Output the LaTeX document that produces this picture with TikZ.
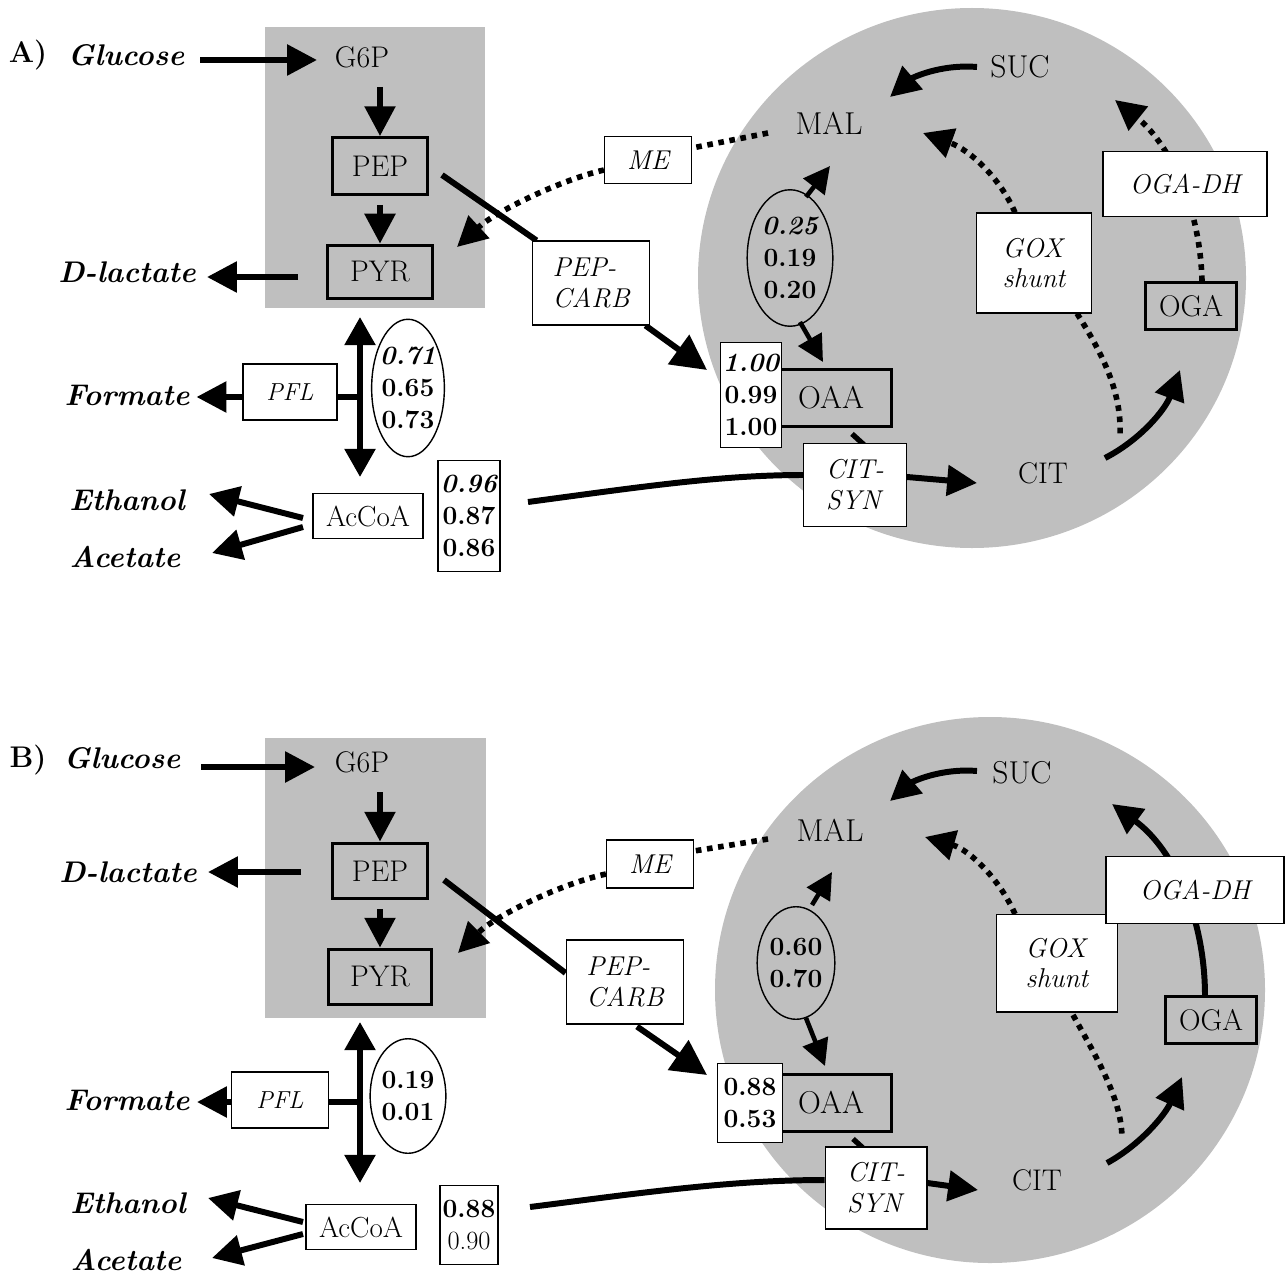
\documentclass[tikz,border=0pt]{standalone}
\usetikzlibrary{arrows.meta,shapes.geometric,calc}
\pgfdeclarelayer{back}\pgfdeclarelayer{mid}
\pgfsetlayers{back,mid,main}
\definecolor{bgg}{gray}{0.75}
\tikzset{
 wh/.style 2 args={minimum width=#1*0.5669pt,minimum height=#2*0.5669pt},
 met/.style={inner sep=1pt,font=\fontsize{17}{20}\selectfont},
 bigmet/.style={inner sep=1pt,font=\fontsize{18}{20}\selectfont},
 mbox/.style={draw,line width=1.7pt,inner sep=0pt,font=\fontsize{17}{20}\selectfont},
 cbox/.style={draw,fill=white,line width=1pt,inner sep=0pt,font=\fontsize{16.5}{18}\selectfont},
 prod/.style={inner sep=1pt,font=\fontsize{17}{20}\selectfont\bfseries\itshape},
 lab/.style={inner sep=1pt,font=\fontsize{17}{20}\selectfont\bfseries},
 enz/.style={draw,fill=white,line width=0.8pt,inner sep=0pt,align=left,font=\fontsize{15.5}{17.5}\selectfont\itshape},
 vbox/.style={draw,fill=white,line width=0.8pt,inner sep=0pt,align=center,font=\fontsize{15}{18}\selectfont\bfseries},
 vell/.style={draw,ellipse,line width=0.8pt,inner sep=-3pt,align=center,font=\fontsize{15}{18}\selectfont\bfseries},
 arr/.style={line width=3.4pt,-{Triangle[length=17pt,width=17pt]}},
 bigarr/.style={line width=3.4pt,-{Triangle[length=20pt,width=20pt]}},
 darr/.style={line width=3.4pt,{Triangle[length=16pt,width=17pt]}-{Triangle[length=16pt,width=17pt]}},
 sarr/.style={line width=2.6pt,-{Triangle[length=15pt,width=15pt]}},
 dots/.style={line width=3.2pt,dash pattern=on 3.2pt off 3.2pt},
 darrow/.style={dots,-{Triangle[length=17pt,width=17pt]}},
 bar/.style={line width=3.4pt},
}
\begin{document}
\begin{tikzpicture}[x=0.02cm,y=-0.02cm]
\useasboundingbox (0,0) rectangle (1288,1274);
\begin{pgfonlayer}{back}
\fill[bgg] (972,278) ellipse [x radius=274, y radius=270];
\fill[bgg] (265,27) rectangle (485,308);
\fill[bgg] (990,990) ellipse [x radius=275, y radius=273];
\fill[bgg] (265,738) rectangle (486,1018);
\end{pgfonlayer}

% ---------------- Panel A ----------------
\node[lab] (labA) at (28,55) {A)};
\node[prod] (glcA) at (126,55) {Glucose};
\node[met] (g6pA) at (362,57) {G6P};
\node[mbox,wh={95}{57}] (pepA) at (380,166) {PEP};
\node[mbox,wh={105}{54}] (pyrA) at (380,272) {PYR};
\node[prod] (dlacA) at (127,272) {D-lactate};
\node[vell,wh={73}{138}] (e1A) at (408,388) {{\itshape 0.71}\\0.65\\0.73};
\node[enz,wh={94}{56},align=center,font=\fontsize{14}{17}\selectfont\itshape] (pflA) at (290,392) {PFL};
\node[prod] (formA) at (127,395) {Formate};
\node[prod] (ethA) at (127,500) {Ethanol};
\node[prod] (acetA) at (125,557) {Acetate};
\node[cbox,wh={110}{45}] (acoaA) at (368,516) {AcCoA};
\node[vbox,wh={62}{112}] (v1A) at (469,516) {{\itshape 0.96}\\0.87\\0.86};
\node[enz,wh={87}{47},align=center] (meA) at (648,160) {ME};
\node[bigmet] (malA) at (829,123) {MAL};
\node[enz,wh={118}{84}] (pcA) at (591,283) {PEP-\\CARB};
\node[mbox,wh={122}{57},font=\fontsize{18}{20}\selectfont] (oaaA) at (831,398) {OAA};
\node[vbox,wh={61}{105}] (v2A) at (751,395) {{\itshape 1.00}\\0.99\\1.00};
\node[vell,wh={86}{137}] (e2A) at (790,258) {{\itshape 0.25}\\0.19\\0.20};
\node[bigmet] (sucA) at (1020,67) {SUC};
\node[enz,wh={116}{100}] (goxA) at (1034,263) {GOX\\shunt};
\node[enz,wh={165}{65},align=center] (ogadhA) at (1185,184) {OGA-DH};
\node[mbox,wh={92}{47}] (ogaA) at (1191,306) {OGA};
\node[met] (citA) at (1043,473) {CIT};
\node[enz,wh={103}{83}] (csA) at (855,485) {CIT-\\SYN};

\begin{pgfonlayer}{mid}
\draw[arr] ($(g6pA)+(-162,3)$) -- ($(g6pA)+(-45,3)$);
\draw[arr] ($(g6pA)+(18,30)$) -- (pepA.north);
\draw[arr] ($(pepA.south)+(0,9)$) -- (pyrA.north);
\draw[arr] ($(pyrA)+(-82,5)$) -- ($(dlacA)+(80,5)$);
\draw[darr] ($(pyrA)+(-20,45)$) -- ($(acoaA)+(-8,-39)$);
\draw[bar] ($(pflA.east)+(0,5)$) -- ++(23,0);
\draw[arr] ($(pflA.west)+(0,5)$) -- ++(-46,0);
\draw[arr] ($(acoaA)+(-65,2)$) -- ($(ethA)+(82,-6)$);
\draw[arr] ($(acoaA)+(-65,11)$) -- ($(acetA)+(87,-4)$);
\draw[dots] ($(malA)+(-61,10)$) -- ($(meA.east)+(0,-12)$);
\draw[darrow] ($(meA.west)+(0,10)$) .. controls ($(meA)+(-88,20)$) and ($(meA)+(-153,52)$) .. ($(pyrA)+(77,-25)$);
\draw[bar] ($(pepA)+(62,9)$) -- ($(pcA.north west)+(5,0)$);
\draw[bigarr] ($(pcA.south east)+(-5,0)$) -- ($(v2A)+(-44,-25)$);
\draw[sarr] ($(e2A)+(16,-61)$) -- ($(e2A)+(40,-92)$);
\draw[sarr] ($(e2A)+(10,64)$) -- ($(e2A)+(33,104)$);
\draw[arr] ($(sucA)+(-43,0)$) .. controls ($(sucA)+(-80,-3)$) and ($(sucA)+(-108,11)$) .. ($(sucA)+(-130,30)$);
\draw[darrow] ($(goxA.north)+(-19,0)$) .. controls ($(goxA)+(-34,-85)$) and ($(goxA)+(-64,-113)$) .. ($(goxA)+(-111,-130)$);
\draw[dots] ($(goxA.south)+(43,0)$) .. controls ($(goxA)+(66,87)$) and ($(goxA)+(88,127)$) .. ($(goxA)+(86,172)$);
\draw[darrow] ($(ogaA.north)+(11,0)$) .. controls ($(ogaA)+(9,-106)$) and ($(ogaA)+(-26,-166)$) .. ($(ogaA)+(-76,-206)$);
\draw[arr] ($(citA)+(62,-15)$) .. controls ($(citA)+(97,-33)$) and ($(citA)+(122,-63)$) .. ($(citA)+(137,-103)$);
\draw[arr] ($(csA.east)+(0,-8)$) -- ($(citA)+(-66,10)$);
\draw[bar] ($(v1A)+(59,-14)$) .. controls ($(v1A)+(171,-29)$) and ($(v1A)+(251,-41)$) .. ($(csA.west)+(0,-10)$);
\draw[bar,line width=3pt] ($(oaaA.south)+(21,6)$) -- ++(22,20);
\end{pgfonlayer}

% ---------------- Panel B ----------------
\node[lab] (labB) at (28,760) {B)};
\node[prod] (glcB) at (122,758) {Glucose};
\node[met] (g6pB) at (362,762) {G6P};
\node[mbox,wh={95}{56}] (pepB) at (380,871) {PEP};
\node[mbox,wh={103}{56}] (pyrB) at (380,977) {PYR};
\node[prod] (dlacB) at (128,872) {D-lactate};
\node[vell,wh={76}{115}] (e1B) at (408,1096) {0.19\\0.01};
\node[enz,wh={97}{56},align=center,font=\fontsize{14}{17}\selectfont\itshape] (pflB) at (280,1100) {PFL};
\node[prod] (formB) at (127,1100) {Formate};
\node[prod] (ethB) at (128,1203) {Ethanol};
\node[prod] (acetB) at (126,1260) {Acetate};
\node[cbox,wh={110}{45}] (acoaB) at (361,1227) {AcCoA};
\node[vbox,wh={58}{79}] (v1B) at (469,1225) {0.88\\{\mdseries 0.90}};
\node[enz,wh={87}{48},align=center] (meB) at (650,864) {ME};
\node[bigmet] (malB) at (830,830) {MAL};
\node[enz,wh={118}{84}] (pcB) at (625,982) {PEP-\\CARB};
\node[mbox,wh={122}{57},font=\fontsize{18}{20}\selectfont] (oaaB) at (831,1103) {OAA};
\node[vbox,wh={65}{79}] (v2B) at (750,1103) {0.88\\0.53};
\node[vell,wh={78}{113}] (e2B) at (796,963) {0.60\\0.70};
\node[bigmet] (sucB) at (1022,773) {SUC};
\node[enz,wh={121}{98}] (goxB) at (1057,963) {GOX\\shunt};
\node[enz,wh={179}{67},align=center] (ogadhB) at (1195,890) {OGA-DH};
\node[mbox,wh={92}{48}] (ogaB) at (1211,1020) {OGA};
\node[met] (citB) at (1037,1180) {CIT};
\node[enz,wh={102}{82}] (csB) at (876,1188) {CIT-\\SYN};

\begin{pgfonlayer}{mid}
\draw[arr] ($(g6pB)+(-161,5)$) -- ($(g6pB)+(-47,5)$);
\draw[arr] ($(g6pB)+(18,30)$) -- (pepB.north);
\draw[arr] ($(pepB.south)+(0,9)$) -- (pyrB.north);
\draw[arr] ($(pepB)+(-79,1)$) -- ($(dlacB)+(80,0)$);
\draw[darr] ($(pyrB)+(-20,45)$) -- ($(acoaB)+(-1,-44)$);
\draw[bar] ($(pflB.east)+(0,2)$) -- ++(32,0);
\draw[arr] ($(pflB.west)+(0,2)$) -- ++(-34,0);
\draw[arr] ($(acoaB)+(-58,-5)$) -- ($(ethB)+(80,-5)$);
\draw[arr] ($(acoaB)+(-58,7)$) -- ($(acetB)+(86,-2)$);
\draw[dots] ($(malB)+(-62,9)$) -- ($(meB.east)+(0,-13)$);
\draw[darrow] ($(meB.west)+(0,10)$) .. controls ($(meB)+(-90,20)$) and ($(meB)+(-155,52)$) .. ($(pyrB)+(78,-24)$);
\draw[bar] ($(pepB)+(64,9)$) -- ($(pcB.west)+(0,-9)$);
\draw[bigarr] ($(pcB.south)+(12,2)$) -- ($(v2B)+(-43,-28)$);
\draw[sarr] ($(e2B)+(16,-58)$) -- ($(e2B)+(36,-91)$);
\draw[sarr] ($(e2B)+(10,55)$) -- ($(e2B)+(29,103)$);
\draw[arr] ($(sucB)+(-45,-2)$) .. controls ($(sucB)+(-82,-5)$) and ($(sucB)+(-110,9)$) .. ($(sucB)+(-132,28)$);
\draw[darrow] ($(goxB)+(-42,-49)$) .. controls ($(goxB)+(-57,-83)$) and ($(goxB)+(-87,-113)$) .. ($(goxB)+(-132,-126)$);
\draw[dots] ($(goxB)+(16,52)$) .. controls ($(goxB)+(41,97)$) and ($(goxB)+(65,137)$) .. ($(goxB)+(65,176)$);
\draw[arr] ($(ogaB)+(-6,-24)$) .. controls ($(ogaB)+(-6,-100)$) and ($(ogaB)+(-36,-170)$) .. ($(ogaB)+(-99,-216)$);
\draw[arr] ($(citB)+(70,-17)$) .. controls ($(citB)+(103,-35)$) and ($(citB)+(128,-65)$) .. ($(citB)+(145,-103)$);
\draw[arr] ($(csB.east)+(0,-5)$) -- ($(citB)+(-59,10)$);
\draw[bar] ($(v1B)+(61,-18)$) .. controls ($(v1B)+(171,-32)$) and ($(v1B)+(261,-45)$) .. ($(csB.west)+(0,-8)$);
\draw[bar,line width=3pt] ($(oaaB.south)+(22,6)$) -- ++(22,20);
\end{pgfonlayer}
\end{tikzpicture}
\end{document}
